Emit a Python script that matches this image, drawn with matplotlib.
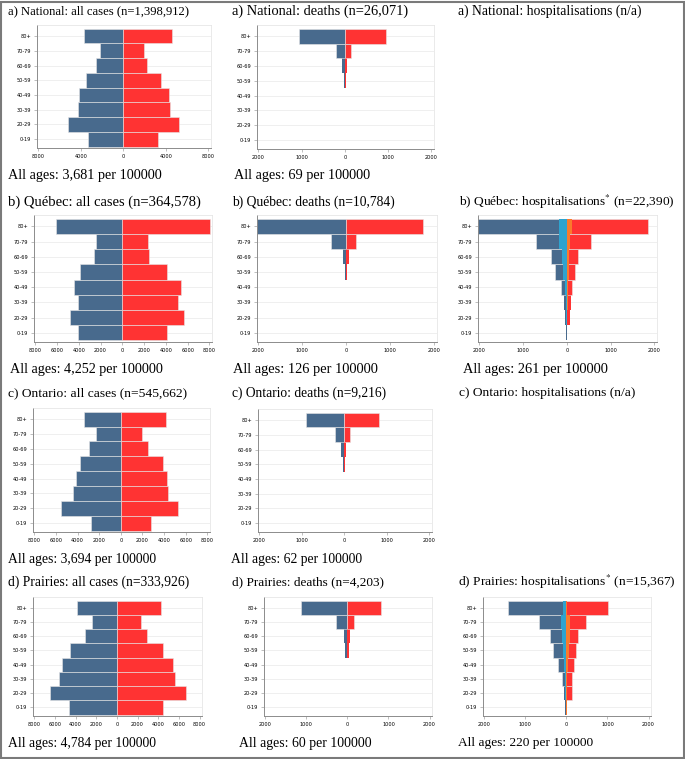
import matplotlib
matplotlib.use("Agg")
import matplotlib.pyplot as plt
from matplotlib.patches import Rectangle

plt.rcParams['mathtext.fontset'] = 'stix'

ages = ['0-19', '20-29', '30-39', '40-49', '50-59', '60-69', '70-79', '80+']

# rates per 100000, blue = left side, red = right side
national_cases_m = [3300, 5200, 4300, 4150, 3550, 2550, 2150, 3700]
national_cases_f = [3250, 5200, 4380, 4280, 3500, 2200, 1900, 4550]
national_deaths_m = [0, 0, 0, 0, 10, 62, 210, 1070]
national_deaths_f = [0, 0, 0, 0, 25, 60, 146, 946]

quebec_cases_m = [4100, 4850, 4100, 4400, 3850, 2600, 2450, 6100]
quebec_cases_f = [4150, 5700, 5100, 5350, 4100, 2450, 2350, 8100]
quebec_deaths_m = [0, 0, 0, 0, 30, 86, 342, 2060]
quebec_deaths_f = [0, 0, 0, 0, 25, 54, 226, 1745]
quebec_hosp_m = [15, 32, 63, 134, 260, 370, 710, 2130]
quebec_icu_m = [5, 15, 30, 47, 80, 110, 170, 175]
quebec_hosp_f = [15, 70, 100, 126, 180, 252, 560, 1845]
quebec_icu_f = [5, 10, 20, 30, 45, 60, 80, 110]

ontario_cases_m = [2800, 5550, 4380, 4150, 3750, 2950, 2270, 3420]
ontario_cases_f = [2800, 5300, 4350, 4250, 3870, 2550, 2000, 4130]
ontario_deaths_m = [0, 0, 0, 0, 30, 79, 213, 898]
ontario_deaths_f = [0, 0, 0, 0, 22, 47, 126, 819]

prairies_cases_m = [4600, 6450, 5580, 5300, 4520, 3080, 2450, 3840]
prairies_cases_f = [4500, 6720, 5600, 5440, 4430, 2880, 2360, 4230]
prairies_deaths_m = [0, 0, 0, 0, 50, 92, 267, 1125]
prairies_deaths_f = [0, 0, 0, 0, 33, 58, 150, 817]
prairies_hosp_m = [25, 66, 115, 197, 320, 402, 664, 1426]
prairies_icu_m = [10, 25, 33, 49, 82, 115, 131, 74]
prairies_hosp_f = [25, 139, 148, 180, 246, 287, 484, 1016]
prairies_icu_f = [8, 16, 25, 41, 57, 82, 90, 25]

BLUE = '#486a8d'
RED = '#ff3333'
LBLUE = '#2ea3cf'
ORANGE = '#fa7a2c'

W, H = 685, 759
fig = plt.figure(figsize=(W / 100, H / 100), dpi=100)
serif = ['Liberation Serif', 'DejaVu Serif']


def px_axes(x0, y0, x1, y1):
    return fig.add_axes([x0 / W, 1 - y1 / H, (x1 - x0) / W, (y1 - y0) / H])


def edges(vals):
    # no outline on empty/tiny bars, otherwise a pale line shows at zero
    return [0.4 if v > 100 else 0 for v in vals]


def pyramid(rect, left, right, lim, step, left2=None, right2=None):
    ax = px_axes(*rect)
    y = range(len(ages))
    ax.barh(y, [-v for v in left], height=1, color=BLUE, edgecolor='#e6e6e6',
            lw=edges(left), zorder=2)
    ax.barh(y, right, height=1, color=RED, edgecolor='#e6e6e6',
            lw=edges(right), zorder=2)
    if left2 is not None:
        ax.barh(y, [-v for v in left2], height=1, color=LBLUE, edgecolor='none', zorder=3)
        ax.barh(y, right2, height=1, color=ORANGE, edgecolor='none', zorder=3)
    ax.set_xlim(-1.015 * lim, 1.03 * lim)
    ax.set_ylim(-0.6, 7.75)
    ax.set_yticks(list(y))
    ax.set_yticklabels(ages)
    ticks = list(range(-lim, lim + 1, step))
    ax.set_xticks(ticks)
    ax.set_xticklabels([str(abs(t)) for t in ticks])
    ax.grid(axis='y', color='#ededed', lw=0.6, zorder=0)
    ax.set_axisbelow(True)
    for s in ['left', 'bottom']:
        ax.spines[s].set_color('#8c8c8c')
        ax.spines[s].set_linewidth(0.7)
    for s in ['top', 'right']:
        ax.spines[s].set_color('#e2e2e2')
        ax.spines[s].set_linewidth(0.5)
    ax.tick_params(labelsize=3.6, length=2, width=0.4, color='#8c8c8c', pad=2)
    return ax


def ftext(x, y, s, size=10):
    fig.text(x / W, 1 - y / H, s, ha='left', va='center', fontsize=size, family=serif)


# row a) National
pyramid((37, 25, 211, 148), national_cases_m, national_cases_f, 8000, 4000)
pyramid((257, 25, 434, 149), national_deaths_m, national_deaths_f, 2000, 1000)
ftext(8, 11, 'a) National: all cases (n=1,398,912)', 9.1)
ftext(232, 11, 'a) National: deaths (n=26,071)', 10.4)
ftext(458, 11, 'a) National: hospitalisations (n/a)', 9.8)
ftext(8, 175, 'All ages: 3,681 per 100000', 10.3)
ftext(234, 175, 'All ages: 69 per 100000', 10.3)

# row b) Québec
pyramid((34, 215, 212, 342), quebec_cases_m, quebec_cases_f, 8000, 2000)
pyramid((257, 215, 437, 342), quebec_deaths_m, quebec_deaths_f, 2000, 1000)
pyramid((478, 215, 657, 342), quebec_hosp_m, quebec_hosp_f, 2000, 1000,
        quebec_icu_m, quebec_icu_f)
ftext(8, 202, 'b) Québec: all cases (n=364,578)', 10.5)
ftext(232, 202, 'b) Québec: deaths (n=10,784)', 9.8)
ftext(459, 202, r'b) Québec: hospitalisations$^{*}$ (n=22,390)', 9.6)
ftext(10, 370, 'All ages: 4,252 per 100000', 10.2)
ftext(233, 370, 'All ages: 126 per 100000', 10.35)
ftext(463, 370, 'All ages: 261 per 100000', 10.35)

# row c) Ontario
pyramid((33, 408, 210, 532), ontario_cases_m, ontario_cases_f, 8000, 2000)
pyramid((258, 409, 432, 532), ontario_deaths_m, ontario_deaths_f, 2000, 1000)
ftext(8, 393, 'c) Ontario: all cases (n=545,662)', 9.7)
ftext(232, 393, 'c) Ontario: deaths (n=9,216)', 9.75)
ftext(459, 393, 'c) Ontario: hospitalisations (n/a)', 9.7)
ftext(8, 559, 'All ages: 3,694 per 100000', 9.8)
ftext(231, 560, 'All ages: 62 per 100000', 9.8)

# row d) Prairies
pyramid((33, 597, 202, 716), prairies_cases_m, prairies_cases_f, 8000, 2000)
pyramid((264, 597, 432, 716), prairies_deaths_m, prairies_deaths_f, 2000, 1000)
pyramid((483, 597, 651, 716), prairies_hosp_m, prairies_hosp_f, 2000, 1000,
        prairies_icu_m, prairies_icu_f)
ftext(8, 582, 'd) Prairies: all cases (n=333,926)', 9.8)
ftext(232, 582, 'd) Prairies: deaths (n=4,203)', 9.5)
ftext(458, 582, r'd) Prairies: hospitalisations$^{*}$ (n=15,367)', 9.7)
ftext(8, 743, 'All ages: 4,784 per 100000', 9.8)
ftext(239, 743, 'All ages: 60 per 100000', 9.9)
ftext(458, 743, 'All ages: 220 per 100000', 9.65)

fig.patches.append(Rectangle((0.001, 0.001), 0.997, 0.997, transform=fig.transFigure,
                             fill=False, edgecolor='#7a7a7a', lw=1.5))

fig.savefig('out.png', dpi=100)
